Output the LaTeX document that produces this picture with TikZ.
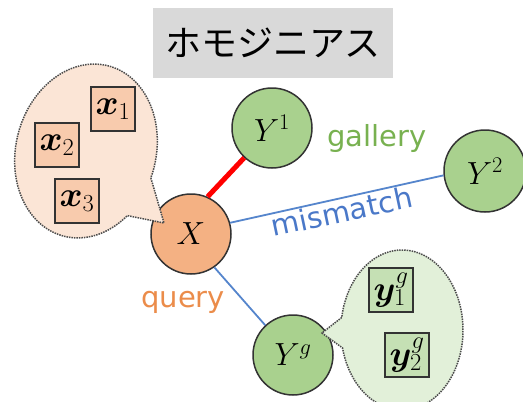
\RequirePackage{fix-cm}
\documentclass[tikz,border=0pt]{standalone}
\usepackage{bm}
\usepackage{fontspec}
\newfontfamily\jpfont{Noto Sans CJK JP}
\newfontfamily\labelfont{DejaVu Sans}

\definecolor{qfill}{HTML}{F4B183}
\definecolor{gfill}{HTML}{A9D18E}
\definecolor{qlight}{HTML}{FBE5D6}
\definecolor{glight}{HTML}{E2F0D9}
\definecolor{qbox}{HTML}{F8CBAD}
\definecolor{gbox}{HTML}{C5E0B4}
\definecolor{titlegray}{HTML}{D9D9D9}
\definecolor{edgeblue}{HTML}{5585CC}
\definecolor{edgered}{HTML}{FF0000}
\definecolor{txtgreen}{HTML}{78B150}
\definecolor{txtblue}{HTML}{4A78C8}
\definecolor{txtorange}{HTML}{EB8C4A}
\definecolor{outline}{HTML}{333333}

\begin{document}
\begin{tikzpicture}[x=1pt,y=-1pt,
  circ/.style={circle, draw=outline, line width=1.5pt, minimum size=80pt,
    inner sep=0pt, font=\fontsize{32}{38}\selectfont},
  qcirc/.style={circ, fill=qfill},
  gcirc/.style={circ, fill=gfill},
  feat/.style={draw=outline, line width=1.7pt, minimum size=44pt,
    inner sep=0pt, font=\fontsize{35}{40}\selectfont},
  qfeat/.style={feat, fill=qbox},
  gfeat/.style={feat, fill=gbox},
  bubble/.style={draw=black!70, densely dotted, line width=1.5pt},
  wordlabel/.style={font=\labelfont\fontsize{29}{34}\selectfont, inner sep=0pt},
  simedge/.style={draw=edgered, line width=5pt},
  difedge/.style={draw=edgeblue, line width=1.8pt},
  titlebox/.style={fill=titlegray, minimum width=240pt, minimum height=70pt,
    inner sep=0pt, font=\jpfont\fontsize{36}{42}\selectfont}
]
\useasboundingbox (0,0) rectangle (523,402);
\clip (0,0) rectangle (523,402);

% heading
\node[titlebox] (title) at (273,43) {ホモジニアス};

% query and gallery sets
\node[qcirc] (X)  at (191,234) {$X$};
\node[gcirc] (Y1) at (272,128) {$Y^1$};
\node[gcirc, minimum size=82pt] (Y2) at (485,171) {$Y^2$};
\node[gcirc] (Yg) at (293,355) {$Y^g$};

% relations between the sets
\draw[simedge] (X.66) -- (Y1.227);
\draw[difedge] (X.16) -- (Y2.186);
\draw[difedge] (X.-55) -- (Yg.133);

% labels
\node[wordlabel, text=txtgreen, anchor=base west] (lgal) at (327,146) {gallery};
\node[wordlabel, text=txtblue, anchor=base, rotate=12] (lmis) at (344,222) {mismatch};
\node[wordlabel, text=txtorange, anchor=base west] (lqry) at (141,307) {query};

% speech bubble of the query set
\coordinate (tipL) at (164,223);
\draw[bubble, fill=qlight, shift={(86,151)}, rotate=-15]
  (6:70 and 88) -- (tipL) -- (36:70 and 88)
  arc[start angle=36, end angle=366, x radius=70, y radius=88] -- cycle;

% speech bubble of the gallery set
\coordinate (tipR) at (322,333);
\draw[bubble, fill=glight, shift={(402,330)}]
  (189:61 and 80) -- (tipR) -- (167:61 and 80)
  arc[start angle=167, end angle=-171, x radius=61, y radius=80] -- cycle;

% members of the sets
\node[qfeat] (x1) at (113,109) {$\bm{x}_1$};
\node[qfeat] (x2) at (57,145)  {$\bm{x}_2$};
\node[qfeat] (x3) at (77,201)  {$\bm{x}_3$};
\node[gfeat] (y1) at (391,290) {$\bm{y}_1^g$};
\node[gfeat] (y2) at (407,355) {$\bm{y}_2^g$};
\end{tikzpicture}
\end{document}
